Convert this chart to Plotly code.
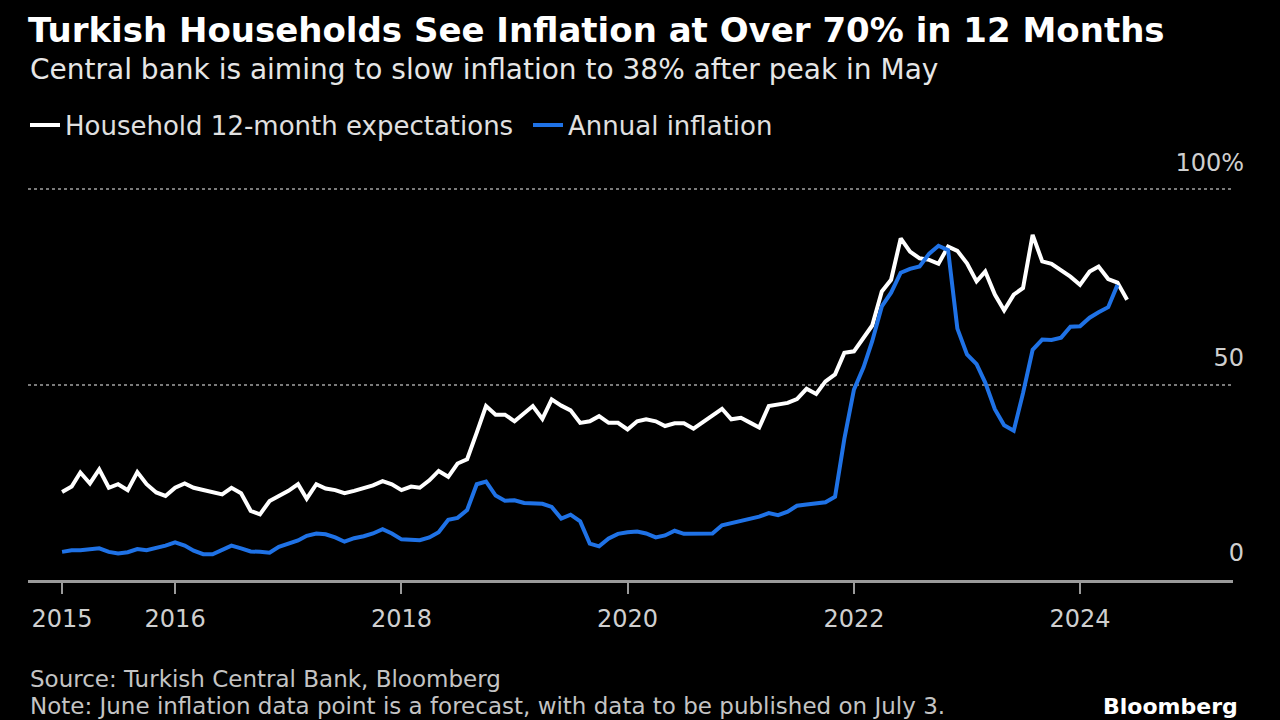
import pandas as pd
import plotly.graph_objects as go

# Household 12-month inflation expectations (%), monthly Jan 2015 - Jun 2024
expectations = [
    22.5, 23.9, 27.5, 24.7, 28.3, 23.6, 24.5, 23.0, 27.6, 24.5, 22.4, 21.5,   # 2015
    23.6, 24.7, 23.6, 23.0, 22.5, 21.9, 23.6, 22.2, 17.7, 16.8, 20.2, 21.5,   # 2016
    22.8, 24.5, 20.8, 24.5, 23.4, 23.0, 22.2, 22.8, 23.4, 24.2, 25.3, 24.5,   # 2017
    23.0, 23.9, 23.6, 25.5, 27.9, 26.4, 29.8, 30.9, 37.7, 44.5, 42.3, 42.3,   # 2018
    40.6, 42.8, 44.5, 41.2, 46.2, 44.6, 43.4, 40.2, 40.6, 41.9, 40.2, 40.2,   # 2019
    38.5, 40.6, 41.1, 40.6, 39.4, 40.1, 40.1, 38.7, 40.4, 41.9, 43.8, 41.1,   # 2020
    41.5, 40.2, 39.0, 44.5, 44.9, 45.3, 46.3, 48.9, 47.6, 50.8, 52.6, 58.1,   # 2021
    58.5, 61.9, 65.1, 73.8, 76.8, 87.4, 84.0, 82.3, 81.9, 80.9, 85.3, 84.2,   # 2022
    81.0, 76.4, 78.9, 73.0, 69.0, 73.0, 74.7, 88.3, 81.5, 80.9, 79.3, 77.6,   # 2023
    75.5, 78.9, 80.2, 77.0, 76.1, 71.7,                                       # 2024
]

# Annual CPI inflation (%), monthly Jan 2015 - May 2024
inflation = [
    7.2, 7.6, 7.6, 7.9, 8.1, 7.2, 6.8, 7.1, 7.9, 7.6, 8.1, 8.8,               # 2015
    9.6, 8.8, 7.5, 6.6, 6.6, 7.6, 8.8, 8.1, 7.3, 7.2, 7.0, 8.5,               # 2016
    9.2, 10.1, 11.3, 11.9, 11.7, 10.9, 9.8, 10.7, 11.2, 11.9, 13.0, 11.9,     # 2017
    10.4, 10.3, 10.2, 10.9, 12.2, 15.4, 15.9, 17.9, 24.5, 25.2, 21.6, 20.3,   # 2018
    20.4, 19.7, 19.7, 19.5, 18.7, 15.7, 16.7, 15.0, 9.3, 8.6, 10.6, 11.8,     # 2019
    12.2, 12.4, 11.9, 10.9, 11.4, 12.6, 11.8, 11.8, 11.8, 11.9, 14.0, 14.6,   # 2020
    15.0, 15.6, 16.2, 17.1, 16.6, 17.5, 19.0, 19.3, 19.6, 19.9, 21.3, 36.1,   # 2021
    48.7, 54.4, 61.1, 70.0, 73.5, 78.6, 79.6, 80.2, 83.5, 85.5, 84.4, 64.3,   # 2022
    57.7, 55.2, 50.5, 43.7, 39.6, 38.2, 47.8, 58.9, 61.5, 61.4, 62.0, 64.8,   # 2023
    64.9, 67.1, 68.5, 69.8, 75.5,                                             # 2024
]

dates_exp = pd.date_range("2015-01-01", periods=len(expectations), freq="MS")
dates_inf = pd.date_range("2015-01-01", periods=len(inflation), freq="MS")

x_tick_vals = ["2015-01-01", "2016-01-01", "2018-01-01", "2020-01-01", "2022-01-01", "2024-01-01"]
x_tick_text = ["2015", "2016", "2018", "2020", "2022", "2024"]
y_tick_vals = [0, 50, 100]
y_tick_text = ["0", "50", "100%"]

FONT = "DejaVu Sans"
WHITE = "#ffffff"
BLUE = "#1f72e6"
GREY = "#9a9a9a"

PLOT_TOP, PLOT_BOTTOM = 140, 580
PLOT_H = PLOT_BOTTOM - PLOT_TOP


def paper_y(px):
    """Convert a pixel row of the page into a paper fraction."""
    return (PLOT_BOTTOM - px) / PLOT_H


fig = go.Figure()
fig.add_trace(go.Scatter(
    x=dates_exp, y=expectations, mode="lines",
    name="Household 12-month expectations",
    line=dict(color=WHITE, width=4),
))
fig.add_trace(go.Scatter(
    x=dates_inf, y=inflation, mode="lines",
    name="Annual inflation",
    line=dict(color=BLUE, width=4),
))

fig.update_layout(
    width=1280, height=720,
    paper_bgcolor="#000000", plot_bgcolor="#000000",
    margin=dict(l=28, r=47, t=PLOT_TOP, b=720 - PLOT_BOTTOM, autoexpand=False),
    font=dict(family=FONT, color="#d8d8d8"),
    title=dict(
        text="Turkish Households See Inflation at Over 70% in 12 Months",
        font=dict(family=FONT, size=34, color=WHITE, weight="bold"),
        xref="container", yref="container",
        x=28 / 1280, xanchor="left",
        y=1 - 30 / 720, yanchor="middle",
    ),
    showlegend=True,
    legend=dict(
        orientation="h",
        xref="container", yref="container",
        x=25 / 1280, xanchor="left",
        y=1 - 125 / 720, yanchor="middle",
        font=dict(family=FONT, size=26, color="#e0e0e0"),
        bgcolor="rgba(0,0,0,0)",
        entrywidthmode="pixels",
        entrywidth=458,
    ),
    annotations=[
        dict(text="Central bank is aiming to slow inflation to 38% after peak in May",
             xref="paper", yref="paper", x=0, xanchor="left",
             y=paper_y(70), yanchor="middle", showarrow=False,
             font=dict(family=FONT, size=28, color="#e6e6e6")),
        dict(text="Source: Turkish Central Bank, Bloomberg",
             xref="paper", yref="paper", x=0, xanchor="left",
             y=paper_y(679), yanchor="middle", showarrow=False,
             font=dict(family=FONT, size=23, color="#c4c4c4")),
        dict(text="Note: June inflation data point is a forecast, with data to be published on July 3.",
             xref="paper", yref="paper", x=0, xanchor="left",
             y=paper_y(706), yanchor="middle", showarrow=False,
             font=dict(family=FONT, size=23, color="#c4c4c4")),
        dict(text="Bloomberg",
             xref="paper", yref="paper", x=1, xanchor="right", xshift=7,
             y=paper_y(706), yanchor="middle", showarrow=False,
             font=dict(family=FONT, size=22, color=WHITE, weight="bold")),
    ],
)

fig.update_xaxes(
    type="date",
    range=["2014-09-13", "2025-05-09"],
    tickmode="array", tickvals=x_tick_vals, ticktext=x_tick_text,
    showgrid=False, zeroline=False,
    showline=True, linecolor=GREY, linewidth=3,
    ticks="outside", ticklen=11, tickwidth=2, tickcolor=GREY,
    ticklabelstandoff=4,
    tickfont=dict(family=FONT, size=24, color="#cfcfcf"),
)
fig.update_yaxes(
    range=[0, PLOT_H / 3.909],
    side="right",
    tickmode="array", tickvals=y_tick_vals, ticktext=y_tick_text,
    ticklabelposition="inside",
    ticklabelshift=-27,
    ticklabelstandoff=-14,
    ticks="",
    showgrid=True, gridcolor="#7a7a7a", gridwidth=2, griddash="dot",
    zeroline=False, showline=False,
    tickfont=dict(family=FONT, size=24, color="#cfcfcf"),
)

fig.write_html("out.html", config={"displayModeBar": False},
               post_script="document.body.style.margin='0';")
